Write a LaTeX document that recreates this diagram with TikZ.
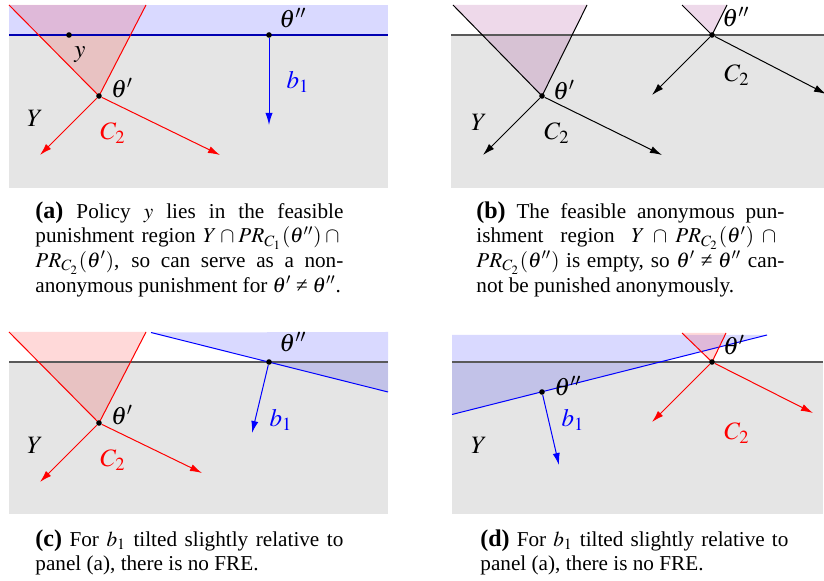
\documentclass[tikz,border=0pt]{standalone}
\usepackage{mathptmx}
\usepackage{fontspec}
\setmainfont{Liberation Serif}
\usetikzlibrary{arrows.meta,positioning,calc}
\newcommand{\nequal}{\mathrel{\hbox{≠}}}

\begin{document}
\begin{tikzpicture}[x=0.5pt,y=-0.5pt,
  lbl/.style={font=\fontsize{12.5}{14}\selectfont, inner sep=0pt},
  captxt/.style={anchor=north west, inner sep=0pt, text width=154pt, align=justify, font=\fontsize{10.6}{12.4}\selectfont},
  dot/.style={circle, fill=black, inner sep=0pt, minimum size=2.8pt},
  vec/.style={line width=0.5pt, -{Latex[length=6pt,width=3.6pt]}},
  segline/.style={line width=0.5pt},
  baseline/.style={draw=black!65, line width=0.8pt},
  region/.style={fill opacity=0.15}]
\useasboundingbox (0,0) rectangle (824,581);

% (a)
\fill[gray!20] (9,35) rectangle (388,188);
\fill[blue, region] (9,5) rectangle (388,35);
\coordinate (clA) at (9,5);
\coordinate (crA) at (146,5);
\coordinate (pA) at (99,96);
\fill[red, region] (clA) -- (pA) -- (crA) -- cycle;
\coordinate (blA) at (9,35);
\coordinate (brA) at (388,35);
\draw[blue!70!black, line width=0.9pt] (blA) -- (brA);
\draw[red, segline] (clA) -- (pA) -- (crA);
\node[dot] (thpA) at (pA) {};
\node[dot] (yA) at (69,35) {};
\node[dot] (thppA) at (269,35) {};
\coordinate (aLA) at (40,155);
\coordinate (aRA) at (220,155);
\coordinate (bA) at (269,125);
\draw[red, vec] (thpA) -- (aLA);
\draw[red, vec] (thpA) -- (aRA);
\draw[blue, vec] (thppA) -- (bA);
\node[lbl] (lthppA) at (293,18) {$\theta''$};
\node[lbl, blue] (lbA) at (298,82) {$b_1$};
\node[lbl] (lyA) at (80,55) {$y$};
\node[lbl] (lthpA) at (122,88) {$\theta'$};
\node[lbl] (lYA) at (35,118) {$Y$};
\node[lbl, red] (lCA) at (113,133) {$C_2$};

% (b)
\begin{scope}
\clip (451,0) rectangle (824,200);
\fill[gray!20] (451,35) rectangle (824,188);
\coordinate (clB) at (453,5);
\coordinate (crB) at (587,5);
\coordinate (pB) at (542,96);
\coordinate (clBB) at (682,5);
\coordinate (crBB) at (727,5);
\coordinate (qB) at (712,35);
\fill[violet!90!red, region] (clB) -- (pB) -- (crB) -- cycle;
\fill[violet!90!red, region] (clBB) -- (qB) -- (crBB) -- cycle;
\coordinate (blB) at (451,35);
\coordinate (brB) at (824,35);
\draw[baseline] (blB) -- (brB);
\draw[segline] (clB) -- (pB) -- (crB);
\draw[segline] (clBB) -- (qB) -- (crBB);
\node[dot] (thpB) at (pB) {};
\node[dot] (thppB) at (qB) {};
\coordinate (aLB) at (483,155);
\coordinate (aRB) at (662,155);
\coordinate (aLBB) at (652,95);
\coordinate (aRBB) at (826,94);
\draw[vec] (thpB) -- (aLB);
\draw[vec] (thpB) -- (aRB);
\draw[vec] (thppB) -- (aLBB);
\draw[vec] (thppB) -- (aRBB);
\end{scope}
\node[lbl] (lthppB) at (736,17) {$\theta''$};
\node[lbl] (lCBB) at (737,75) {$C_2$};
\node[lbl] (lthpB) at (564,90) {$\theta'$};
\node[lbl] (lYB) at (479,122) {$Y$};
\node[lbl] (lCB) at (557,133) {$C_2$};

% (c)
\fill[gray!20] (9,362) rectangle (388,514);
\coordinate (blC) at (151,332.5);
\coordinate (brC) at (388,392);
\fill[blue, region] (blC) -- (388,332) -- (brC) -- cycle;
\coordinate (clC) at (9,332);
\coordinate (crC) at (146,332);
\coordinate (pC) at (99,423);
\fill[red, region] (clC) -- (pC) -- (crC) -- cycle;
\coordinate (glC) at (9,362);
\coordinate (grC) at (388,362);
\draw[baseline] (glC) -- (grC);
\draw[blue, segline] (blC) -- (brC);
\draw[red, segline] (clC) -- (pC) -- (crC);
\node[dot] (thpC) at (pC) {};
\node[dot] (thppC) at (269,362) {};
\coordinate (aLC) at (40,482);
\coordinate (aRC) at (202,473);
\coordinate (bC) at (252,433);
\draw[red, vec] (thpC) -- (aLC);
\draw[red, vec] (thpC) -- (aRC);
\draw[blue, vec] (thppC) -- (bC);
\node[lbl] (lthppC) at (293,342) {$\theta''$};
\node[lbl, blue] (lbC) at (281,420) {$b_1$};
\node[lbl] (lthpC) at (122,415) {$\theta'$};
\node[lbl] (lYC) at (35,445) {$Y$};
\node[lbl, red] (lCC) at (113,460) {$C_2$};

% (d)
\fill[gray!20] (452,362) rectangle (823,514);
\coordinate (blD) at (452,414.5);
\coordinate (brD) at (767,335);
\fill[blue, region] (452,335) -- (brD) -- (blD) -- cycle;
\coordinate (clD) at (682,333);
\coordinate (crD) at (726,333);
\coordinate (pD) at (712,362);
\fill[red, region] (clD) -- (pD) -- (crD) -- cycle;
\coordinate (glD) at (452,362);
\coordinate (grD) at (823,362);
\draw[baseline] (glD) -- (grD);
\draw[blue, segline] (blD) -- (brD);
\draw[red, segline] (clD) -- (pD) -- (crD);
\node[dot] (thpD) at (pD) {};
\node[dot] (thppD) at (542,392) {};
\coordinate (aLD) at (652,422);
\coordinate (aRD) at (813,413);
\coordinate (bD) at (559,465);
\draw[red, vec] (thpD) -- (aLD);
\draw[red, vec] (thpD) -- (aRD);
\draw[blue, vec] (thppD) -- (bD);
\node[lbl] (lthpD) at (734,345) {$\theta'$};
\node[lbl] (lthppD) at (568,386) {$\theta''$};
\node[lbl, blue] (lbD) at (573,420) {$b_1$};
\node[lbl] (lYD) at (479,445) {$Y$};
\node[lbl, red] (lCD) at (737,433) {$C_2$};

% captions
\node[captxt] (capA) at (35,201) {\textbf{\large (a)} Policy $y$ lies in the feasible\linebreak punishment region $Y\cap PR_{C_1}(\theta'')\cap{}$\linebreak $PR_{C_2}(\theta')$, so can serve as a non-\linebreak anonymous punishment for $\theta'\nequal\theta''$.};
\node[captxt] (capB) at (476,201) {\textbf{\large (b)} The feasible anonymous pun-\linebreak ishment region $Y\cap PR_{C_2}(\theta')\cap{}$\linebreak $PR_{C_2}(\theta'')$ is empty, so $\theta'\nequal\theta''$ can-\linebreak not be punished anonymously.};
\node[captxt] (capC) at (35,529) {\textbf{\large (c)} For $b_1$ tilted slightly relative to\linebreak panel (a), there is no FRE.};
\node[captxt] (capD) at (480,529) {\textbf{\large (d)} For $b_1$ tilted slightly relative to\linebreak panel (a), there is no FRE.};
\end{tikzpicture}
\end{document}
